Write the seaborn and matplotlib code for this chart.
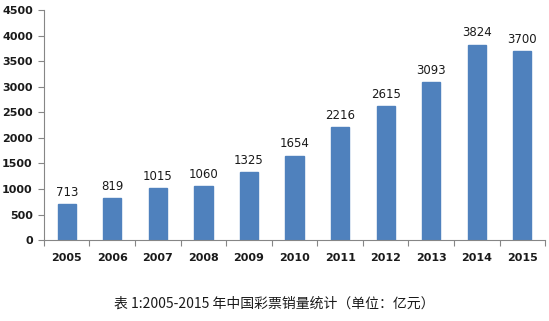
import matplotlib
matplotlib.use("Agg")
import matplotlib.pyplot as plt
import seaborn as sns
import pandas as pd
import numpy as np
from matplotlib.ticker import FixedLocator

years = ["2005", "2006", "2007", "2008", "2009", "2010", "2011", "2012", "2013", "2014", "2015"]
sales = [713, 819, 1015, 1060, 1325, 1654, 2216, 2615, 3093, 3824, 3700]
caption = "表 1:2005-2015 年中国彩票销量统计（单位：亿元）"

sns.set_style("white")
plt.rcParams['font.family'] = ['DejaVu Sans', 'Noto Sans CJK SC']

df = pd.DataFrame({"year": years, "sales": sales})

fig = plt.figure(figsize=(5.49, 3.21), dpi=100)
ax = fig.add_axes([0.080, 0.252, 0.913, 0.717])
sns.barplot(data=df, x="year", y="sales", color="#4F81BD", width=0.4,
            saturation=1, ax=ax, edgecolor="#4F81BD")

ax.set_ylim(0, 4500)
ax.set_yticks(range(0, 4501, 500))
ax.set_xlim(-0.5, len(years) - 0.5)
ax.set_xlabel("")
ax.set_ylabel("")
for s in ["top", "right"]:
    ax.spines[s].set_visible(False)
for s in ["left", "bottom"]:
    ax.spines[s].set_color("#868686")
    ax.spines[s].set_linewidth(0.8)

ax.xaxis.set_minor_locator(FixedLocator(np.arange(-0.5, len(years), 1.0)))
ax.tick_params(axis="x", which="major", bottom=False, length=0, pad=9)
ax.tick_params(axis="x", which="minor", bottom=True, length=4, width=0.8,
               color="#868686", direction="out")
ax.tick_params(axis="y", which="major", left=True, length=4, width=0.8,
               color="#868686", direction="out", pad=4)
for lab in ax.get_xticklabels() + ax.get_yticklabels():
    lab.set_fontsize(8)
    lab.set_fontweight("bold")
    lab.set_color("#1a1a1a")

for i, v in enumerate(sales):
    ax.text(i, v + 100, str(v), ha="center", va="bottom", fontsize=8.5, color="#1a1a1a")

fig.text(0.5, 0.055, caption, ha="center", va="center", fontsize=10,
         family=['Noto Sans CJK SC', 'DejaVu Sans'], color="#1a1a1a")

fig.savefig("out.png", dpi=100, facecolor="white")
